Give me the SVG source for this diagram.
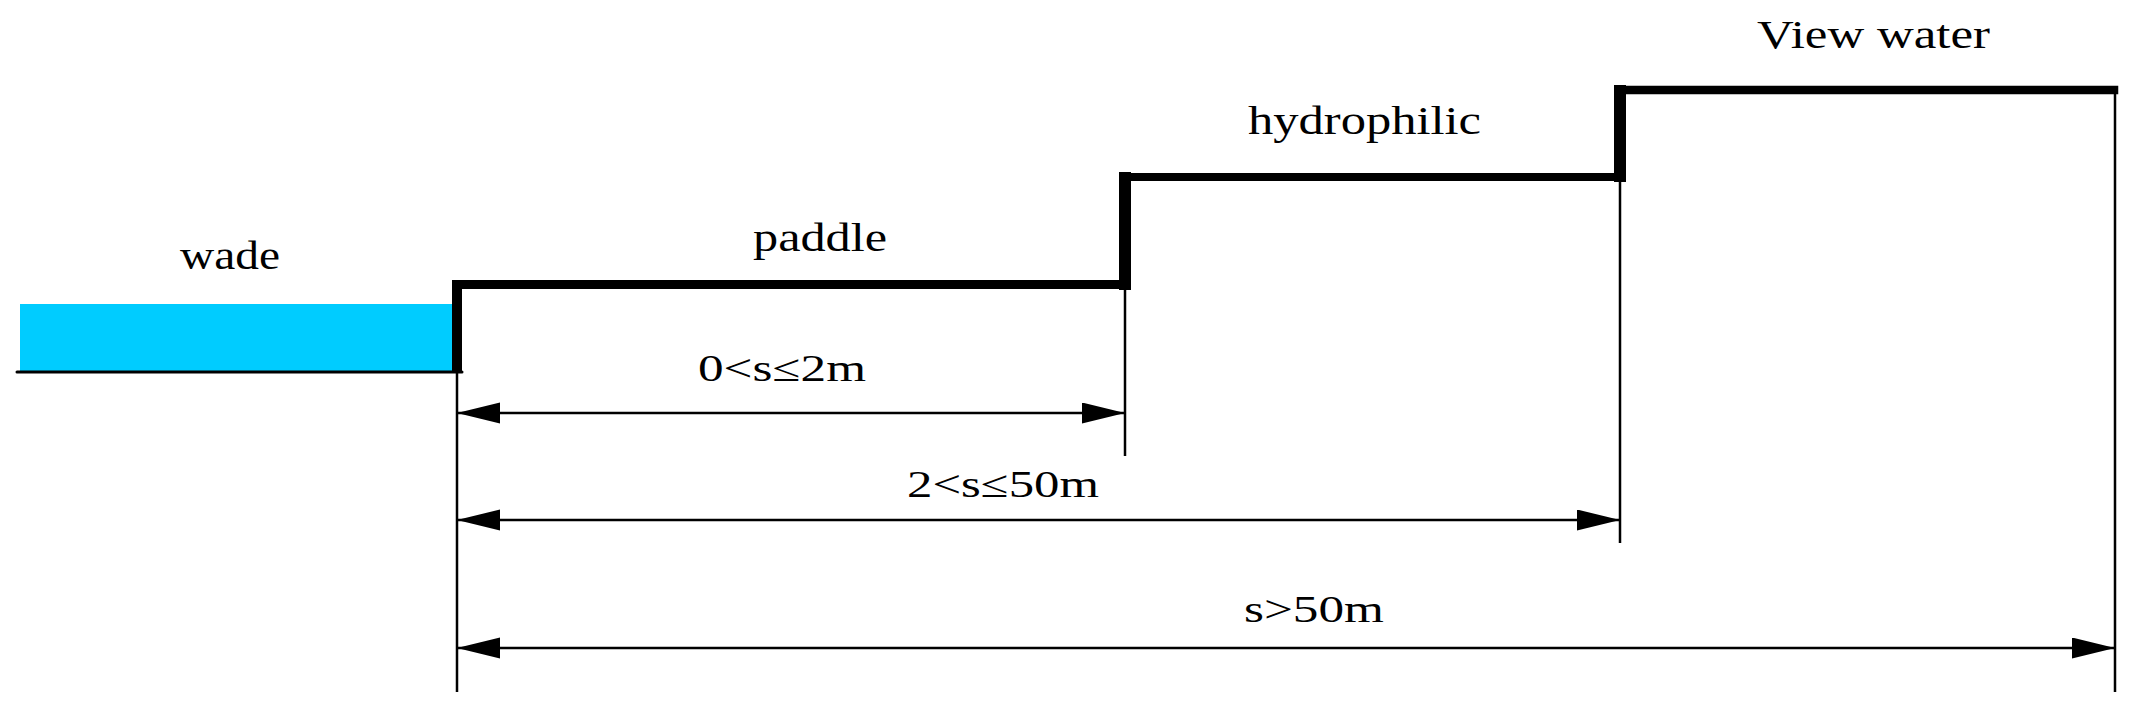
<svg xmlns="http://www.w3.org/2000/svg" width="2140" height="719" viewBox="0 0 2140 719">
<style>
.lbl{font-family:"Liberation Serif","Times New Roman",serif;font-size:40px;fill:#000}
.dim{font-family:"Liberation Serif","Times New Roman",serif;font-size:38px;fill:#000}
.thick{stroke:#000;fill:none;stroke-linecap:square}
.thin{stroke:#000;stroke-width:2.5;fill:none}
</style>
<defs>
<marker id="arr" markerUnits="userSpaceOnUse" markerWidth="44" markerHeight="22" refX="43" refY="10.5" orient="auto-start-reverse">
<path d="M0,0 L43,10.5 L0,21 Z" fill="#000"/>
</marker>
</defs>
<rect width="2140" height="719" fill="#fff"/>
<g id="water">
<rect x="20" y="304" width="437" height="67" fill="#00CCFF"/>
<line x1="17" y1="372" x2="462" y2="372" stroke="#000" stroke-width="3" stroke-linecap="round"/>
</g>
<g id="profile">
<line class="thick" x1="457" y1="285" x2="457" y2="368" stroke-width="10"/>
<line class="thick" x1="457" y1="284.5" x2="1125" y2="284.5" stroke-width="9"/>
<line class="thick" x1="1125" y1="178" x2="1125" y2="284" stroke-width="12"/>
<line class="thick" x1="1125" y1="177" x2="1620" y2="177" stroke-width="8"/>
<line class="thick" x1="1620" y1="91" x2="1620" y2="176" stroke-width="12"/>
<line class="thick" x1="1620" y1="90" x2="2114" y2="90" stroke-width="8.5"/>
</g>
<g id="extension-lines">
<line class="thin" x1="457" y1="372" x2="457" y2="692"/>
<line class="thin" x1="1125" y1="289" x2="1125" y2="456"/>
<line class="thin" x1="1620" y1="180" x2="1620" y2="543"/>
<line class="thin" x1="2115" y1="92" x2="2115" y2="692"/>
</g>
<g id="connectors">
<line class="thin" x1="457" y1="413" x2="1125" y2="413" marker-start="url(#arr)" marker-end="url(#arr)"/>
<line class="thin" x1="457" y1="520" x2="1620" y2="520" marker-start="url(#arr)" marker-end="url(#arr)"/>
<line class="thin" x1="457" y1="648" x2="2115" y2="648" marker-start="url(#arr)" marker-end="url(#arr)"/>
</g>
<g id="labels">
<text class="lbl" x="180" y="269" textLength="100" lengthAdjust="spacingAndGlyphs">wade</text>
<text class="lbl" x="753" y="251" textLength="134" lengthAdjust="spacingAndGlyphs">paddle</text>
<text class="lbl" x="1248" y="134" textLength="233" lengthAdjust="spacingAndGlyphs">hydrophilic</text>
<text class="lbl" x="1757" y="48" textLength="233" lengthAdjust="spacingAndGlyphs">View water</text>
<text class="dim" x="698" y="381" textLength="168" lengthAdjust="spacingAndGlyphs">0&lt;s≤2m</text>
<text class="dim" x="907" y="497" textLength="192" lengthAdjust="spacingAndGlyphs">2&lt;s≤50m</text>
<text class="dim" x="1244" y="622" textLength="140" lengthAdjust="spacingAndGlyphs">s&gt;50m</text>
</g>
</svg>
